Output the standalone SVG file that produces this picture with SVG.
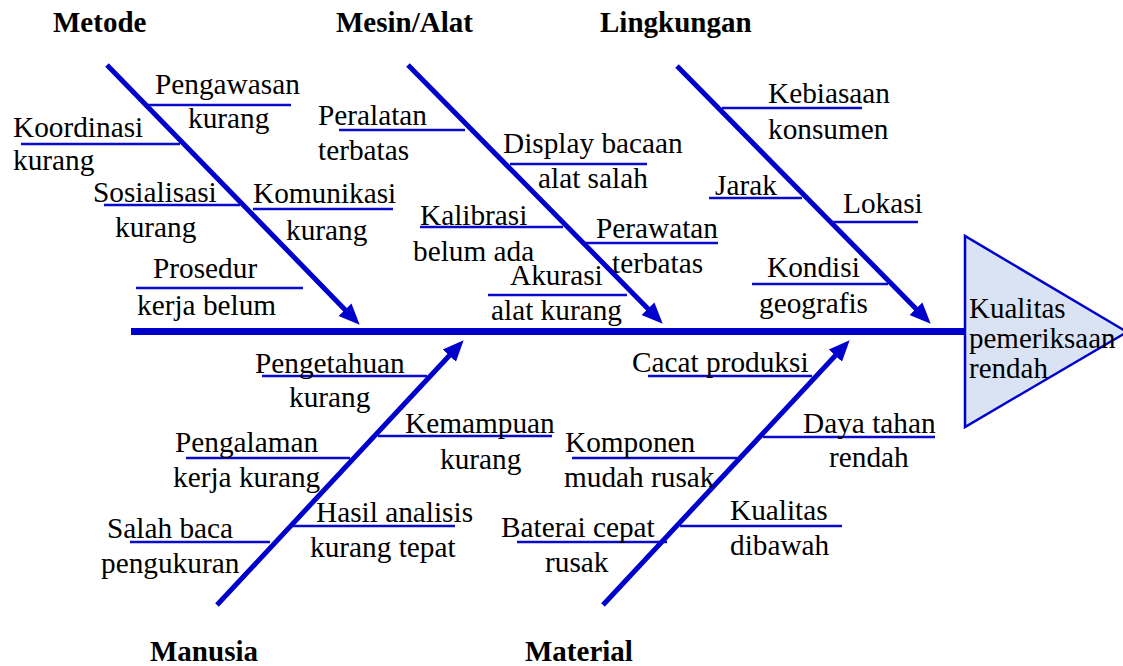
<svg xmlns="http://www.w3.org/2000/svg" width="1123" height="666" viewBox="0 0 1123 666">
<style>
  text { font-family: "Liberation Serif", "Times New Roman", serif; font-size: 29.3px; fill: #000; }
  .hdr { font-weight: bold; font-size: 29px; }
  .bone { stroke: #0000CC; stroke-width: 5; fill: none; marker-end: url(#ah); }
  .spine { stroke: #0000CC; stroke-width: 7; fill: none; }
  .sub { stroke: #0A0ACD; stroke-width: 2.5; fill: none; }
  .head { fill: #DAE3F3; stroke: #0000CC; stroke-width: 2.5; }
  .eff { font-size: 29px; }
</style>
<defs>
  <marker id="ah" markerUnits="userSpaceOnUse" markerWidth="22" markerHeight="20" refX="8" refY="9" orient="auto" viewBox="0 0 22 18">
    <path d="M0,0 L21,9 L0,18 z" fill="#0000CC"/>
  </marker>
</defs>
<rect width="1123" height="666" fill="#fff"/>

<g id="connectors">
  <line class="spine" x1="131" y1="331.5" x2="965" y2="331.5"/>
  <line class="bone" x1="107" y1="65" x2="350.6" y2="315.4"/>
  <line class="bone" x1="408" y1="65" x2="653.6" y2="314.4"/>
  <line class="bone" x1="677" y1="66" x2="921.6" y2="314.4"/>
  <line class="bone" x1="217" y1="605" x2="454.8" y2="349.8"/>
  <line class="bone" x1="603" y1="605" x2="840.8" y2="349.8"/>
</g>

<g id="effect">
  <polygon class="head" points="965,236 965,427 1127,332"/>
  <text class="eff" x="969" y="318">Kualitas</text>
  <text class="eff" x="969" y="348">pemeriksaan</text>
  <text class="eff" x="969" y="378">rendah</text>
</g>

<g id="cat-metode"><text class="hdr" x="53" y="32">Metode</text></g>
<g id="cat-mesin"><text class="hdr" x="336" y="32">Mesin/Alat</text></g>
<g id="cat-lingkungan"><text class="hdr" x="600" y="32">Lingkungan</text></g>
<g id="cat-manusia"><text class="hdr" x="150" y="661">Manusia</text></g>
<g id="cat-material"><text class="hdr" x="525" y="661">Material</text></g>

<g id="c-pengawasan">
  <line class="sub" x1="148" y1="105" x2="291" y2="105"/>
  <text x="155" y="94">Pengawasan</text>
  <text x="188" y="128">kurang</text>
</g>
<g id="c-koordinasi">
  <line class="sub" x1="21" y1="144" x2="180" y2="144"/>
  <text x="13" y="137">Koordinasi</text>
  <text x="13" y="170">kurang</text>
</g>
<g id="c-sosialisasi">
  <line class="sub" x1="104" y1="205" x2="240" y2="205"/>
  <text x="93" y="202">Sosialisasi</text>
  <text x="115" y="237">kurang</text>
</g>
<g id="c-komunikasi">
  <line class="sub" x1="253" y1="209" x2="393" y2="209"/>
  <text x="253" y="203">Komunikasi</text>
  <text x="286" y="240">kurang</text>
</g>
<g id="c-prosedur">
  <line class="sub" x1="136" y1="288" x2="303" y2="288"/>
  <text x="153" y="278">Prosedur</text>
  <text x="137" y="315">kerja belum</text>
</g>

<g id="c-peralatan">
  <line class="sub" x1="339" y1="130" x2="465" y2="130"/>
  <text x="318" y="125">Peralatan</text>
  <text x="318" y="160">terbatas</text>
</g>
<g id="c-display">
  <line class="sub" x1="510" y1="164" x2="647" y2="164"/>
  <text x="503" y="153">Display bacaan</text>
  <text x="538" y="188">alat salah</text>
</g>
<g id="c-kalibrasi">
  <line class="sub" x1="420" y1="227" x2="563" y2="227"/>
  <text x="420" y="225">Kalibrasi</text>
  <text x="413" y="261">belum ada</text>
</g>
<g id="c-perawatan">
  <line class="sub" x1="583" y1="243" x2="718" y2="243"/>
  <text x="596" y="238">Perawatan</text>
  <text x="612" y="273">terbatas</text>
</g>
<g id="c-akurasi">
  <line class="sub" x1="488" y1="295" x2="627" y2="295"/>
  <text x="510" y="285">Akurasi</text>
  <text x="491" y="320">alat kurang</text>
</g>

<g id="c-kebiasaan">
  <line class="sub" x1="722" y1="108" x2="862" y2="108"/>
  <text x="768" y="103">Kebiasaan</text>
  <text x="768" y="139">konsumen</text>
</g>
<g id="c-jarak">
  <line class="sub" x1="709" y1="198" x2="802" y2="198"/>
  <text x="715" y="195">Jarak</text>
</g>
<g id="c-lokasi">
  <line class="sub" x1="832" y1="222" x2="918" y2="222"/>
  <text x="843" y="213">Lokasi</text>
</g>
<g id="c-kondisi">
  <line class="sub" x1="752" y1="284" x2="888" y2="284"/>
  <text x="767" y="277">Kondisi</text>
  <text x="759" y="313">geografis</text>
</g>

<g id="c-pengetahuan">
  <line class="sub" x1="262" y1="376" x2="427" y2="376"/>
  <text x="255" y="373">Pengetahuan</text>
  <text x="289" y="407">kurang</text>
</g>
<g id="c-kemampuan">
  <line class="sub" x1="378" y1="436" x2="552" y2="436"/>
  <text x="405" y="433">Kemampuan</text>
  <text x="440" y="469">kurang</text>
</g>
<g id="c-pengalaman">
  <line class="sub" x1="186" y1="458" x2="350" y2="458"/>
  <text x="175" y="452">Pengalaman</text>
  <text x="173" y="487">kerja kurang</text>
</g>
<g id="c-hasil">
  <line class="sub" x1="293" y1="526" x2="455" y2="526"/>
  <text x="316" y="522">Hasil analisis</text>
  <text x="310" y="557">kurang tepat</text>
</g>
<g id="c-salah">
  <line class="sub" x1="130" y1="542" x2="270" y2="542"/>
  <text x="107" y="538">Salah baca</text>
  <text x="101" y="573">pengukuran</text>
</g>

<g id="c-cacat">
  <line class="sub" x1="648" y1="376" x2="812" y2="376"/>
  <text x="632" y="372">Cacat produksi</text>
</g>
<g id="c-daya">
  <line class="sub" x1="763" y1="437" x2="935" y2="437"/>
  <text x="803" y="433">Daya tahan</text>
  <text x="829" y="467">rendah</text>
</g>
<g id="c-komponen">
  <line class="sub" x1="572" y1="458" x2="737" y2="458"/>
  <text x="565" y="452">Komponen</text>
  <text x="564" y="487">mudah rusak</text>
</g>
<g id="c-kualitas">
  <line class="sub" x1="680" y1="526" x2="842" y2="526"/>
  <text x="730" y="520">Kualitas</text>
  <text x="730" y="555">dibawah</text>
</g>
<g id="c-baterai">
  <line class="sub" x1="517" y1="542" x2="667" y2="542"/>
  <text x="501" y="537">Baterai cepat</text>
  <text x="545" y="572">rusak</text>
</g>
</svg>
